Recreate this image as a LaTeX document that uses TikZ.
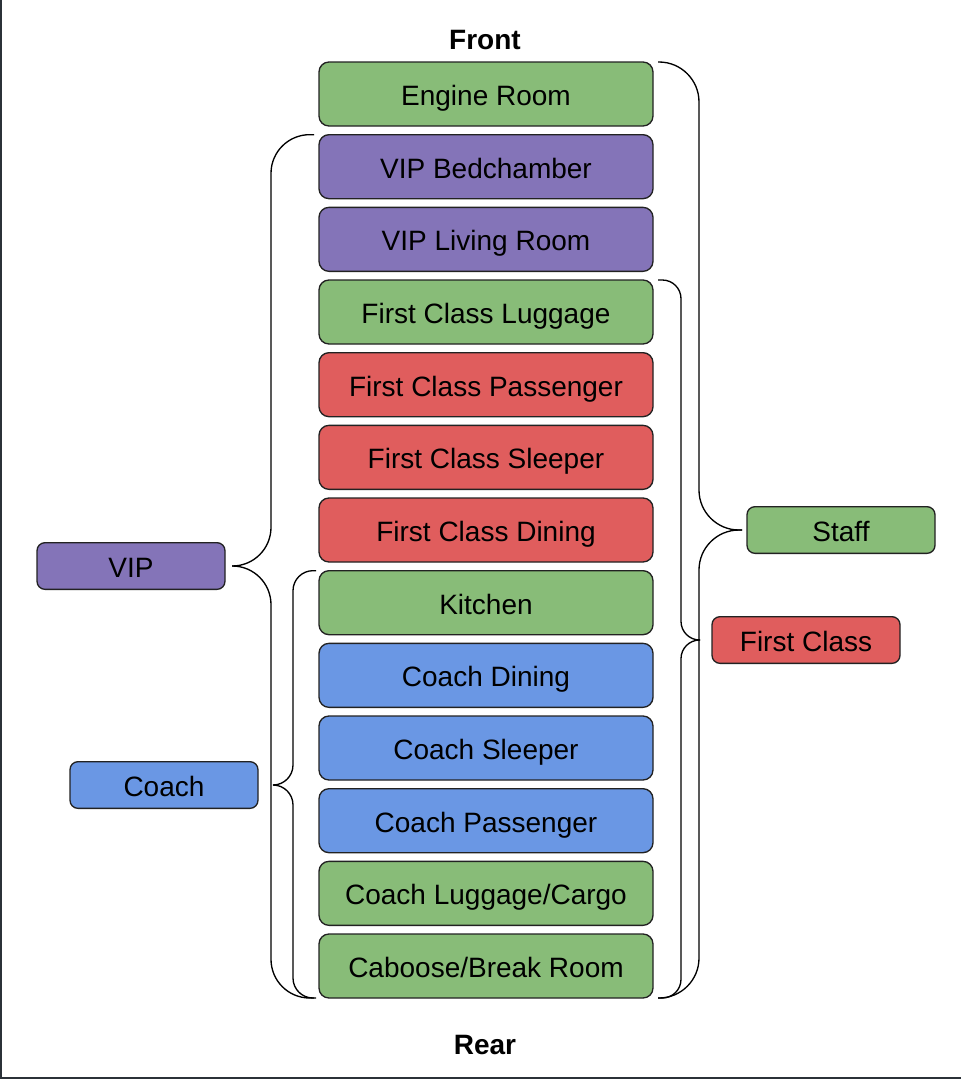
\documentclass[tikz,border=0pt]{standalone}
\usepackage{fontspec}
\setmainfont{Liberation Sans}
\usepackage{tikz}
\usetikzlibrary{positioning,calc}
\definecolor{cargreen}{HTML}{88BC78}
\definecolor{carpurple}{HTML}{8474B8}
\definecolor{carred}{HTML}{E05D5D}
\definecolor{carblue}{HTML}{6A97E4}
\definecolor{edgegray}{HTML}{222222}
\definecolor{framegray}{HTML}{2B3138}
\newcommand{\carfont}{\fontsize{21}{24}\selectfont}
\tikzset{
  % vagnar
  car/.style={draw=edgegray,line width=1pt,rounded corners=7.5pt,inner sep=0pt,outer sep=0pt,
              minimum width=250.5pt,minimum height=48pt,font=\carfont,
              text height=17.3pt,text depth=0pt},
  tag/.style={draw=edgegray,line width=1pt,rounded corners=6pt,inner sep=0pt,outer sep=0pt,
              minimum width=141pt,minimum height=35pt,font=\carfont,
              text height=17.3pt,text depth=0pt},
  staffc/.style={fill=cargreen},
  vipc/.style={fill=carpurple},
  firstc/.style={fill=carred},
  coachc/.style={fill=carblue},
  heading/.style={font=\carfont\bfseries,inner sep=0pt},
  % klamrar
  brace/.style={draw=black,line width=1pt},
  frame/.style={draw=framegray,line width=1.5pt},
}
\begin{document}
\begin{tikzpicture}[x=0.75pt,y=-0.75pt]
  \useasboundingbox (0,0) rectangle (961,1079);
  \draw[frame] (0.75,0) |- (961,1077.5);

  \node[heading] (front) at (485,40) {Front};
  \node[car,staffc] (engine) at (486,94) {Engine Room};
  \node[car,vipc,below=6.5pt of engine] (vipbed) {VIP Bedchamber};
  \node[car,vipc,below=6.5pt of vipbed] (vipliving) {VIP Living Room};
  \node[car,staffc,below=6.5pt of vipliving] (fcluggage) {First Class Luggage};
  \node[car,firstc,below=6.5pt of fcluggage] (fcpassenger) {First Class Passenger};
  \node[car,firstc,below=6.5pt of fcpassenger] (fcsleeper) {First Class Sleeper};
  \node[car,firstc,below=6.5pt of fcsleeper] (fcdining) {First Class Dining};
  \node[car,staffc,below=6.5pt of fcdining] (kitchen) {Kitchen};
  \node[car,coachc,below=6.5pt of kitchen] (cdining) {Coach Dining};
  \node[car,coachc,below=6.5pt of cdining] (csleeper) {Coach Sleeper};
  \node[car,coachc,below=6.5pt of csleeper] (cpassenger) {Coach Passenger};
  \node[car,staffc,below=6.5pt of cpassenger] (cluggage) {Coach Luggage/Cargo};
  \node[car,staffc,below=6.5pt of cluggage] (caboose) {Caboose/Break Room};
  \node[heading] (rear) at (485,1045) {Rear};

  \node[tag,vipc] (vip) at (131,566) {VIP};
  \node[tag,coachc] (coach) at (164,785) {Coach};
  \node[tag,staffc] (staff) at (841,530) {Staff};
  \node[tag,firstc] (first) at (806,640) {First Class};

  % Staff
  \draw[brace,rounded corners=30pt] ([xshift=3.75pt]engine.north east) -- ++(41,0)
    |- ([xshift=-3.75pt]staff.west);
  \draw[brace,rounded corners=30pt] ([xshift=3.75pt]caboose.south east) -- ++(41,0)
    |- ([xshift=-3.75pt]staff.west);
  % First Class
  \draw[brace,rounded corners=14pt] ([xshift=3.75pt]fcluggage.north east) -- ++(23,0)
    |- ([xshift=-9pt]first.west);
  \draw[brace,rounded corners=14pt] ([xshift=3.75pt]caboose.south east) -- ++(23,0)
    |- ([xshift=-9pt]first.west);
  % VIP
  \draw[brace,rounded corners=29pt] ([xshift=-3.75pt]vipbed.north west) -- ++(-43,0)
    |- ([xshift=5.25pt]vip.east);
  \draw[brace,rounded corners=29pt] ([xshift=-3.75pt]caboose.south west) -- ++(-43,0)
    |- ([xshift=5.25pt]vip.east);
  % Coach
  \draw[brace,rounded corners=15pt] ([xshift=-2.25pt]kitchen.north west) -- ++(-23,0)
    |- ([xshift=11.25pt]coach.east);
  \draw[brace,rounded corners=15pt] ([xshift=-2.25pt]caboose.south west) -- ++(-23,0)
    |- ([xshift=11.25pt]coach.east);
\end{tikzpicture}
\end{document}
